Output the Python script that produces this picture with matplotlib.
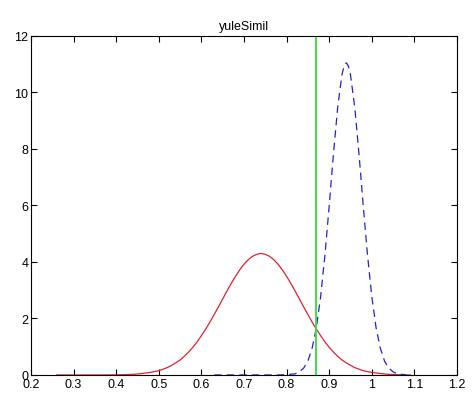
import matplotlib
matplotlib.use('Agg')
import matplotlib.pyplot as plt

plt.rcParams['font.family'] = ['Liberation Sans', 'DejaVu Sans']

# red curve
red_x = [0.26, 0.30, 0.34, 0.38, 0.42, 0.44, 0.46, 0.48, 0.50, 0.52, 0.53,
         0.54, 0.55, 0.56, 0.57, 0.58, 0.59, 0.60, 0.61, 0.62, 0.63, 0.64,
         0.65, 0.66, 0.67, 0.68, 0.69, 0.70, 0.71, 0.72, 0.73, 0.74, 0.75,
         0.76, 0.77, 0.78, 0.79, 0.80, 0.81, 0.82, 0.83, 0.84, 0.85, 0.86,
         0.87, 0.88, 0.89, 0.90, 0.91, 0.92, 0.93, 0.94, 0.95, 0.96, 0.98,
         1.00, 1.02, 1.04, 1.06, 1.09]
red_y = [0.00, 0.00, 0.00, 0.00, 0.01, 0.02, 0.05, 0.09, 0.15, 0.26, 0.34,
         0.43, 0.53, 0.66, 0.81, 0.98, 1.17, 1.39, 1.62, 1.87, 2.14, 2.41,
         2.69, 2.97, 3.24, 3.49, 3.72, 3.92, 4.08, 4.20, 4.27, 4.30, 4.27,
         4.20, 4.08, 3.92, 3.72, 3.49, 3.24, 2.97, 2.69, 2.41, 2.14, 1.87,
         1.62, 1.39, 1.17, 0.98, 0.81, 0.66, 0.53, 0.43, 0.34, 0.26, 0.15,
         0.09, 0.05, 0.02, 0.01, 0.00]

# blue dashed curve
blue_x = [0.63, 0.70, 0.75, 0.78, 0.80, 0.82, 0.83, 0.84, 0.85, 0.86, 0.87,
          0.88, 0.89, 0.90, 0.91, 0.92, 0.93, 0.935, 0.94, 0.945, 0.95, 0.96,
          0.97, 0.98, 0.99, 1.00, 1.01, 1.02, 1.03, 1.04, 1.05, 1.06, 1.07,
          1.08]
blue_y = [0.00, 0.00, 0.00, 0.00, 0.01, 0.04, 0.11, 0.24, 0.49, 0.95, 1.68,
          2.78, 4.24, 5.98, 7.82, 9.48, 10.63, 10.94, 11.05, 10.94, 10.63, 9.48,
          7.82, 5.98, 4.24, 2.78, 1.68, 0.95, 0.49, 0.24, 0.11, 0.04, 0.02,
          0.01]

# green threshold line
threshold = 0.87

xticks = [0.2, 0.3, 0.4, 0.5, 0.6, 0.7, 0.8, 0.9, 1.0, 1.1, 1.2]
xticklabels = ['0.2', '0.3', '0.4', '0.5', '0.6', '0.7', '0.8', '0.9', '1', '1.1', '1.2']
yticks = [0, 2, 4, 6, 8, 10, 12]

fig = plt.figure(figsize=(4.77, 4.06), dpi=100)
ax = fig.add_axes([0.065, 0.074, 0.893, 0.835])

ax.plot(red_x, red_y, color='#dd2233', lw=0.9)
ax.plot(blue_x, blue_y, color='#2222cc', lw=0.9, linestyle=(0, (6, 4)))
ax.axvline(threshold, color='#44dd44', lw=1.4)

ax.set_xlim(0.2, 1.2)
ax.set_ylim(0, 12)
ax.set_xticks(xticks)
ax.set_xticklabels(xticklabels)
ax.set_yticks(yticks)
ax.tick_params(direction='in', top=True, right=True, length=4, width=0.8,
               labelsize=9, pad=2)
for s in ax.spines.values():
    s.set_linewidth(0.8)
ax.set_title('yuleSimil', fontsize=9, pad=5)

fig.savefig('out.png', dpi=100)
